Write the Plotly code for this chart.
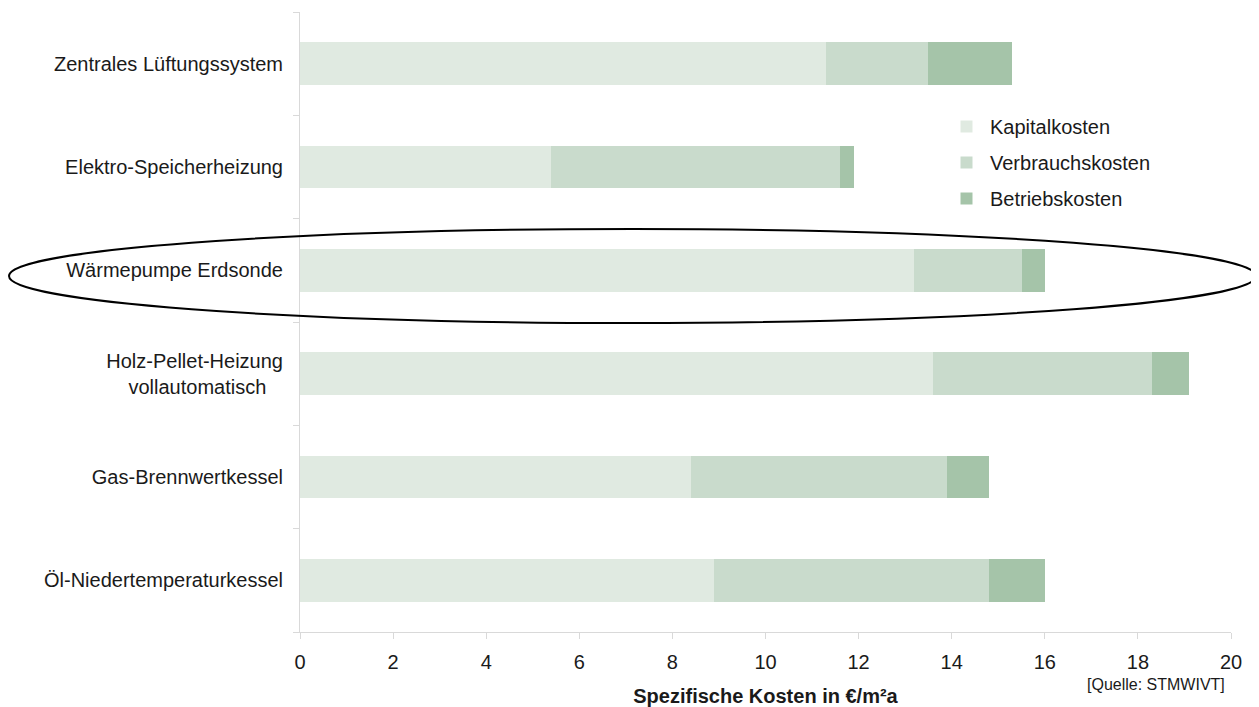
import plotly.graph_objects as go

categories = [
    "Öl-Niedertemperaturkessel",
    "Gas-Brennwertkessel",
    "Holz-Pellet-Heizung<br>vollautomatisch\u00a0\u00a0\u00a0",
    "Wärmepumpe Erdsonde",
    "Elektro-Speicherheizung",
    "Zentrales Lüftungssystem",
]
kapitalkosten = [8.9, 8.4, 13.6, 13.2, 5.4, 11.3]
verbrauchskosten = [5.9, 5.5, 4.7, 2.3, 6.2, 2.2]
betriebskosten = [1.2, 0.9, 0.8, 0.5, 0.3, 1.8]
x_ticks = [0, 2, 4, 6, 8, 10, 12, 14, 16, 18, 20]

FONT = "Liberation Sans, Arial, sans-serif"
O = 8  # page offset of the figure
W, H = 1251, 699
L, R, T, B = 292, 28, 4, 75

fig = go.Figure()
for name, vals, col in [
    ("Kapitalkosten", kapitalkosten, "#e0eae1"),
    ("Verbrauchskosten", verbrauchskosten, "#c9dbcc"),
    ("Betriebskosten", betriebskosten, "#a5c4a9"),
]:
    fig.add_trace(go.Bar(
        y=categories, x=vals, name=name, orientation="h",
        marker=dict(color=col, line=dict(width=0)),
        width=0.41, legendgroup=name,
    ))

pw = W - L - R
ph = H - T - B
def px(x):
    return (x - O - L) / pw
def py(y):
    return (O + H - B - y) / ph

fig.add_shape(type="circle", xref="paper", yref="paper",
              x0=px(9), x1=px(1256), y0=py(323), y1=py(229),
              line=dict(color="black", width=2), fillcolor="rgba(0,0,0,0)",
              layer="above")

fig.add_annotation(text="[Quelle: STMWIVT]", xref="paper", yref="paper",
                   x=px(1227), y=py(684), xanchor="right", yanchor="middle",
                   showarrow=False, font=dict(family=FONT, size=16, color="#1a1a1a"))

fig.update_layout(
    width=W, height=H,
    margin=dict(l=L, r=R, t=T, b=B),
    barmode="stack",
    plot_bgcolor="white", paper_bgcolor="white",
    font=dict(family=FONT, size=20, color="#1a1a1a"),
    showlegend=True,
    legend=dict(
        x=px(943), y=py(107), xanchor="left", yanchor="top",
        traceorder="grouped", tracegroupgap=7, itemwidth=37,
        font=dict(family=FONT, size=20, color="#1a1a1a"),
        bgcolor="rgba(0,0,0,0)",
    ),
    xaxis=dict(
        range=[0, 20], tickvals=x_ticks, ticks="outside", ticklen=6,
        tickcolor="#d9d9d9", showline=True, linecolor="#d9d9d9", linewidth=1,
        showgrid=False, zeroline=False,
        tickfont=dict(family=FONT, size=20, color="#1a1a1a"),
        ticklabelstandoff=6,
        title=dict(text="<b>Spezifische Kosten in €/m²a</b>",
                   font=dict(family=FONT, size=20, color="#1a1a1a"), standoff=17),
    ),
    yaxis=dict(
        type="category", range=[-0.5, 5.5], tickson="boundaries",
        ticks="outside", ticklen=6, tickcolor="#d9d9d9",
        showline=True, linecolor="#d9d9d9", linewidth=1,
        showgrid=False, zeroline=False,
        tickfont=dict(family=FONT, size=20, color="#1a1a1a"),
        ticklabelstandoff=12,
    ),
)

fig.write_html("out.html")
